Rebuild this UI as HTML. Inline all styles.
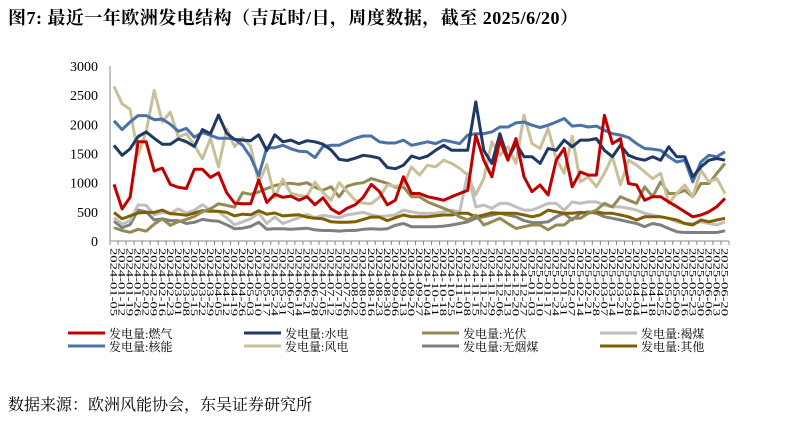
<!DOCTYPE html>
<html><head><meta charset="utf-8">
<style>
body{margin:0;background:#fff;width:805px;height:417px;overflow:hidden;font-family:"Liberation Serif","Noto Serif CJK SC",serif;}
</style></head><body>
<svg width="805" height="417" xmlns="http://www.w3.org/2000/svg">
<text x="8" y="24" font-size="18" font-weight="bold" textLength="570" lengthAdjust="spacing" font-family="Liberation Serif, Noto Serif CJK SC, serif">图7:  最近一年欧洲发电结构（吉瓦时/日，周度数据，截至 2025/6/20）</text>
<g id="plot"></g>
<text x="8" y="410" font-size="16" font-family="Liberation Serif, Noto Serif CJK SC, serif">数据来源：欧洲风能协会，东吴证券研究所</text>
</svg>
<script>
const seriesNames=["发电量:燃气","发电量:水电","发电量:光伏","发电量:褐煤","发电量:核能","发电量:风电","发电量:无烟煤","发电量:其他"];
const gas=[970,550,750,1700,1700,1200,1250,970,920,900,1230,1230,1090,1170,830,650,640,640,1050,660,800,750,770,700,760,620,740,550,470,560,620,750,970,850,620,700,1100,815,815,760,730,700,760,815,870,1815,1385,1100,1730,1385,1755,1100,845,960,790,1385,1585,930,1185,1130,1130,2155,1670,1755,985,960,700,760,760,670,590,500,415,445,500,590,730];
const hydro=[1640,1470,1580,1790,1870,1760,1660,1660,1750,1700,1620,1910,1840,2160,1850,1740,1730,1720,1820,1550,1820,1700,1730,1670,1720,1700,1660,1560,1400,1380,1420,1470,1450,1420,1260,1240,1300,1455,1415,1455,1555,1640,1555,1555,1555,2385,1555,1330,1840,1415,1670,1445,1445,1330,1585,1555,1730,1615,1730,1730,1755,1555,1445,1640,1470,1415,1385,1445,1385,1615,1445,1445,1100,1270,1385,1415,1385];
const solar=[230,180,150,200,170,290,380,270,330,370,420,500,550,640,610,580,830,800,840,900,950,980,990,970,1000,920,870,930,760,940,980,1000,1070,1030,990,920,930,760,760,670,615,560,500,415,360,445,275,330,390,300,215,245,275,275,190,275,275,390,390,475,530,645,585,760,700,645,930,760,1015,815,815,870,760,985,985,1160,1330];
const lignite=[400,290,350,620,610,450,490,470,550,480,530,620,530,500,400,280,330,380,480,300,410,300,350,400,460,400,440,420,400,450,470,490,450,420,430,450,530,500,475,475,475,500,530,500,1160,585,615,560,645,645,585,530,530,585,645,645,530,670,645,670,670,615,585,585,560,530,475,445,415,390,330,300,300,330,300,275,330];
const nuclear=[2060,1910,2040,2150,2150,2080,2090,2000,1880,1930,1780,1860,1810,1760,1760,1750,1640,1440,1120,1600,1600,1640,1580,1540,1530,1430,1620,1640,1640,1700,1760,1800,1800,1700,1680,1680,1730,1640,1670,1700,1670,1730,1700,1670,1815,1840,1840,1870,1955,1955,2025,2040,1985,1945,1985,2040,2100,1970,1985,1955,1970,1900,1840,1815,1775,1670,1585,1575,1555,1445,1355,1385,1015,1355,1470,1445,1530];
const wind=[2650,2350,2260,1470,1880,2580,2040,2210,1780,1840,1640,1410,1760,1270,1920,1620,1770,1620,1000,1310,750,1060,820,780,770,1010,830,700,1000,850,700,650,640,750,960,940,960,1270,1130,1300,1270,1385,1330,1245,1130,790,1070,1700,1470,1615,1330,2155,1670,1585,1930,1415,1160,1795,1015,1100,930,1160,1445,960,1385,1300,1185,1070,1160,645,815,960,760,1215,1015,1070,815];
const coal=[340,230,280,530,500,360,380,350,350,300,320,370,350,340,280,210,220,250,320,200,210,210,200,210,220,190,180,180,170,180,180,200,210,200,210,270,300,245,245,245,245,255,275,300,330,390,415,445,475,445,415,350,315,315,330,415,475,360,475,500,475,415,390,360,330,300,245,300,275,215,160,145,145,145,145,145,175];
const other=[490,380,430,480,490,490,530,470,460,440,480,520,510,510,490,430,460,450,520,460,480,430,440,450,410,390,380,330,320,320,330,370,410,410,350,400,445,415,415,415,430,445,445,475,475,415,445,485,475,475,475,445,415,445,530,500,475,475,490,475,500,475,475,445,415,360,415,415,415,390,360,300,275,360,330,360,390];
const yTicks=[0,500,1000,1500,2000,2500,3000];
const colors=["#c00000","#1f3864","#948a54","#bfbfbf","#4a72a8","#c9c09a","#7f7f7f","#7f6000"];
const allSeries=[gas,hydro,solar,lignite,nuclear,wind,coal,other];
const keys=["gas","hydro","solar","lignite","nuclear","wind","coal","other"];
const N=gas.length;
const d0=new Date(Date.UTC(2025,5,20));
const dates=[];
for(let i=0;i<N;i++){const d=new Date(d0.getTime()-(N-1-i)*7*86400000);dates.push(d.getUTCFullYear()+"-"+String(d.getUTCMonth()+1).padStart(2,"0")+"-"+String(d.getUTCDate()).padStart(2,"0"));}

const X0=110,X1=729,Y0=241,Y1=66,YMAX=3000;
const step=(X1-X0)/N;
const xs=i=>X0+step*(i+0.5);
const ys=v=>Y0-(v/YMAX)*(Y0-Y1);
const NS="http://www.w3.org/2000/svg";
const g=document.getElementById("plot");
function mk(t,a){const e=document.createElementNS(NS,t);for(const k in a)e.setAttribute(k,a[k]);g.appendChild(e);return e;}
yTicks.forEach(v=>{
  const t=mk("text",{x:X0-12,y:ys(v)+5,"text-anchor":"end","font-size":"14","font-family":"Liberation Serif, serif"});
  t.textContent=v;
  
  
});
const ya=mk("line",{x1:X0,y1:Y1,x2:X0,y2:Y0,stroke:"#888","stroke-width":1});


const xa=mk("line",{x1:X0,y1:Y0,x2:X1,y2:Y0,stroke:"#888","stroke-width":1});


for(let i=0;i<=N;i++){
  const tk=mk("line",{x1:X0+step*i,y1:Y0,x2:X0+step*i,y2:Y0+4,stroke:"#888","stroke-width":1});
  
  
}
dates.forEach((d,i)=>{
  const t=mk("text",{x:0,y:0,"font-size":"9.5","font-family":"Liberation Serif, serif",textLength:"68",lengthAdjust:"spacingAndGlyphs",transform:`translate(${xs(i)-3.5},${Y0+7}) rotate(90)`});
  t.textContent=d;
  
  
});
const drawOrder=[6,3,7,2,5,4,1,0];
drawOrder.forEach(s=>{
  const pts=allSeries[s].map((v,i)=>xs(i).toFixed(1)+","+ys(v).toFixed(1)).join(" ");
  const p=mk("polyline",{points:pts,fill:"none",stroke:colors[s],"stroke-width":3,"stroke-linejoin":"round"});
  
  
});
const lx=[68,244,422,600];
seriesNames.forEach((n,s)=>{
  const c=s%4,r=Math.floor(s/4);
  const y=333+r*13;
  const l=mk("line",{x1:lx[c],y1:y,x2:lx[c]+37,y2:y,stroke:colors[s],"stroke-width":3});
  
  
  const t=mk("text",{x:lx[c]+41,y:y+5,"font-size":"12","font-family":"Liberation Serif, Noto Serif CJK SC, serif"});
  t.textContent=n;
  
  
});
</script>
</body></html>
